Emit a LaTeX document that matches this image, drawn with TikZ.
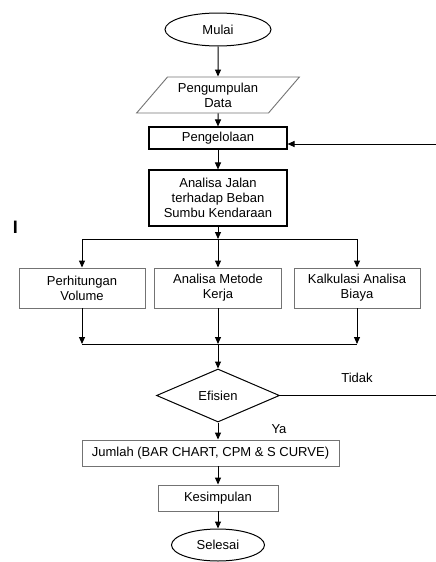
\documentclass[tikz,border=0pt]{standalone}
\usepackage{fontspec}
\setmainfont{Liberation Sans}
\usetikzlibrary{shapes.geometric, arrows.meta}

\definecolor{abu}{gray}{0.45}

\tikzset{
  ujung/.style = {draw = black, line width = 1pt, ellipse, inner sep = 0pt},
  proses/.style = {draw = black, line width = 1.1pt, rectangle, inner sep = 0pt, align = center},
  kotak/.style = {draw = abu, line width = 0.9pt, rectangle, inner sep = 0pt, align = center},
  masukan/.style = {draw = abu, line width = 0.9pt, trapezium, trapezium left angle = 45,
    trapezium right angle = 135, trapezium stretches = true, inner sep = 0pt, align = center},
  putusan/.style = {draw = black, line width = 1pt, diamond, aspect = 2.3, inner sep = 0pt},
  panah/.style = {line width = 1pt, -{Triangle[length = 7pt, width = 6pt]}}
}

\begin{document}
\begin{tikzpicture}[x = 1pt, y = -1pt, font = \fontsize{13}{15}\selectfont]
  \pgfmathsetmacro{\sX}{218}
  \useasboundingbox (0, 0) rectangle (436, 562);

  \node[ujung, minimum width = 106pt, minimum height = 33pt] (mulai) at (\sX, 29.5) {Mulai};
  \node[masukan, minimum width = 163pt, minimum height = 36pt] (data) at (\sX, 95)
  {Pengumpulan\\Data};
  \node[proses, minimum width = 138pt, minimum height = 22pt] (olah) at (\sX, 138) {Pengelolaan};
  \node[proses, minimum width = 138pt, minimum height = 56pt] (analisa) at (\sX, 198)
  {Analisa Jalan\\terhadap Beban\\Sumbu Kendaraan};

  \node[kotak, minimum width = 126pt, minimum height = 40pt] (hitung) at (82, 288)
  {Perhitungan\\Volume};
  \node[kotak, minimum width = 127pt, minimum height = 40pt] (metode) at (\sX, 288)
  {Analisa Metode\\Kerja};
  \node[kotak, minimum width = 126pt, minimum height = 40pt] (kalkulasi) at (357, 288)
  {Kalkulasi Analisa\\Biaya};

  \node[putusan, minimum width = 123pt, minimum height = 53pt] (efisien) at (\sX, 395.5) {Efisien};
  \node[kotak, minimum width = 257pt, minimum height = 26pt] (jumlah) at (210.5, 453)
  {Jumlah (BAR CHART, CPM \& S CURVE)};
  \node[kotak, minimum width = 120pt, minimum height = 26pt] (simpul) at (\sX, 498) {Kesimpulan};
  \node[ujung, minimum width = 93pt, minimum height = 32pt] (selesai) at (\sX, 545) {Selesai};

  \node (tidak) at (357, 378) {Tidak};
  \node (ya) at (279, 429) {Ya};
  \node[font = \fontsize{18}{18}\selectfont\bfseries] (kursor) at (15.3, 227.5) {I};

  \coordinate (pecah) at (\sX, 239);
  \coordinate (gabung) at (\sX, 344);
  \coordinate (balik) at (440, 144);

  \draw[panah] (mulai) -- (data);
  \draw[panah] (data) -- (olah);
  \draw[panah] (olah) -- (analisa);
  \draw[panah] (analisa) -- (pecah);

  \draw[line width = 1pt] (hitung.north |- pecah) -- (kalkulasi.north |- pecah);
  \draw[line width = 1pt] (hitung.south |- gabung) -- (kalkulasi.south |- gabung);
  \foreach \n in {hitung, metode, kalkulasi}{
    \draw[panah] (\n.north |- pecah) -- (\n.north);
    \draw[panah] (\n.south) -- (\n.south |- gabung);
  }
  \draw[panah] (gabung) -- (efisien.north);

  % tidak efisien: kembali ke pengelolaan
  \draw[panah] (efisien.east) -| (balik) -- (olah.east |- balik);

  \draw[panah] (efisien.south) -- (efisien.south |- jumlah.north);
  \draw[panah] (jumlah.south -| simpul) -- (simpul.north);
  \draw[panah] (simpul) -- (selesai);
\end{tikzpicture}
\end{document}
